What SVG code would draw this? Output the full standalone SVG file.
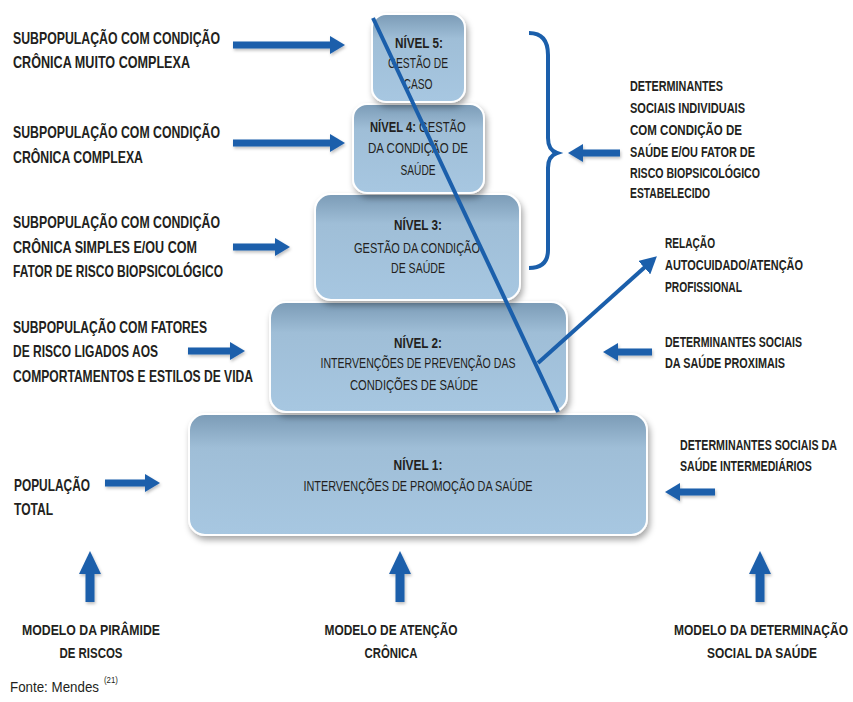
<svg xmlns="http://www.w3.org/2000/svg" width="853" height="702" viewBox="0 0 853 702">
<defs>
<style>
text{font-family:"Liberation Sans",Arial,sans-serif;fill:#231f20;}
.o{font-size:16.5px;font-weight:bold;}
.r{font-size:14.5px;font-weight:bold;}
.b{font-size:14.5px;}
.bb{font-size:14.5px;font-weight:bold;}
.m{font-size:15.5px;font-weight:bold;}
.box{fill:url(#g);stroke:#ffffff;stroke-width:2;filter:url(#sh);}
.arr{stroke:#1b5fab;stroke-width:7;fill:none;marker-end:url(#ah);}
.arrb{stroke:#1b5fab;stroke-width:9;fill:none;marker-end:url(#ahb);}
.ln{stroke:#1b5fab;stroke-width:4;fill:none;}
</style>
<linearGradient id="g" x1="0" y1="0" x2="0" y2="1">
<stop offset="0" stop-color="#7b9bb6"/>
<stop offset="0.28" stop-color="#9fbed7"/>
<stop offset="1" stop-color="#a7c7e1"/>
</linearGradient>
<filter id="sh" x="-10%" y="-10%" width="125%" height="135%">
<feDropShadow dx="2" dy="4" stdDeviation="3" flood-color="#000" flood-opacity="0.35"/>
</filter>
<filter id="ash" filterUnits="userSpaceOnUse" x="0" y="0" width="853" height="702">
<feDropShadow dx="1" dy="2" stdDeviation="1.5" flood-color="#000" flood-opacity="0.25"/>
</filter>
<marker id="ah" markerUnits="userSpaceOnUse" markerWidth="16" markerHeight="20" refX="1" refY="10" orient="auto">
<path d="M0,1 L15,10 L0,19 z" fill="#1b5fab"/>
</marker>
<marker id="ahb" markerUnits="userSpaceOnUse" markerWidth="24" markerHeight="24" refX="1" refY="12" orient="auto">
<path d="M0,1 L23,12 L0,23 z" fill="#1b5fab"/>
</marker>
<marker id="ahs" markerUnits="userSpaceOnUse" markerWidth="18" markerHeight="18" refX="1" refY="9" orient="auto">
<path d="M0,0 L17,9 L0,18 z" fill="#1b5fab"/>
</marker>
</defs>
<rect width="853" height="702" fill="#ffffff"/>

<g id="nivel1">
<rect class="box" x="189" y="414" width="458" height="121" rx="16"/>
<text class="bb" x="418" y="470" text-anchor="middle" textLength="49" lengthAdjust="spacingAndGlyphs">NÍVEL 1:</text>
<text class="b" x="418" y="491" text-anchor="middle" textLength="229" lengthAdjust="spacingAndGlyphs">INTERVENÇÕES DE PROMOÇÃO DA SAÚDE</text>
</g>
<g id="nivel2">
<rect class="box" x="270" y="302" width="297" height="110" rx="16"/>
<text class="bb" x="418" y="348" text-anchor="middle" textLength="48" lengthAdjust="spacingAndGlyphs">NÍVEL 2:</text>
<text class="b" x="418" y="368" text-anchor="middle" textLength="195" lengthAdjust="spacingAndGlyphs">INTERVENÇÕES DE PREVENÇÃO DAS</text>
<text class="b" x="414" y="390" text-anchor="middle" textLength="128" lengthAdjust="spacingAndGlyphs">CONDIÇÕES DE SAÚDE</text>
</g>
<g id="nivel3">
<rect class="box" x="315" y="194" width="205" height="106" rx="16"/>
<text class="bb" x="418" y="230" text-anchor="middle" textLength="48" lengthAdjust="spacingAndGlyphs">NÍVEL 3:</text>
<text class="b" x="417" y="253" text-anchor="middle" textLength="126" lengthAdjust="spacingAndGlyphs">GESTÃO DA CONDIÇÃO</text>
<text class="b" x="418" y="273" text-anchor="middle" textLength="54" lengthAdjust="spacingAndGlyphs">DE SAÚDE</text>
</g>
<g id="nivel4">
<rect class="box" x="353" y="104" width="131" height="89" rx="14"/>
<text class="b" transform="translate(370,132) scale(0.774,1)"><tspan font-weight="bold">NÍVEL 4:</tspan> GESTÃO</text>
<text class="b" x="368" y="153" textLength="100" lengthAdjust="spacingAndGlyphs">DA CONDIÇÃO  DE</text>
<text class="b" x="418" y="175" text-anchor="middle" textLength="35" lengthAdjust="spacingAndGlyphs">SAÚDE</text>
</g>
<g id="nivel5">
<rect class="box" x="372" y="14" width="93" height="88" rx="14"/>
<text class="bb" x="419" y="48" text-anchor="middle" textLength="48" lengthAdjust="spacingAndGlyphs">NÍVEL 5:</text>
<text class="b" x="418" y="68" text-anchor="middle" textLength="60" lengthAdjust="spacingAndGlyphs">GESTÃO DE</text>
<text class="b" x="418" y="89" text-anchor="middle" textLength="29" lengthAdjust="spacingAndGlyphs">CASO</text>
</g>

<g id="esquerda">
<text class="o" x="13" y="44" textLength="207" lengthAdjust="spacingAndGlyphs">SUBPOPULAÇÃO COM CONDIÇÃO</text>
<text class="o" x="13" y="68" textLength="177" lengthAdjust="spacingAndGlyphs">CRÔNICA MUITO COMPLEXA</text>
<text class="o" x="13" y="138" textLength="207" lengthAdjust="spacingAndGlyphs">SUBPOPULAÇÃO COM CONDIÇÃO</text>
<text class="o" x="13" y="163" textLength="130" lengthAdjust="spacingAndGlyphs">CRÔNICA COMPLEXA</text>
<text class="o" x="13" y="228" textLength="207" lengthAdjust="spacingAndGlyphs">SUBPOPULAÇÃO COM CONDIÇÃO</text>
<text class="o" x="13" y="253" textLength="184" lengthAdjust="spacingAndGlyphs">CRÔNICA  SIMPLES E/OU COM</text>
<text class="o" x="13" y="277" textLength="210" lengthAdjust="spacingAndGlyphs">FATOR DE RISCO BIOPSICOLÓGICO</text>
<text class="o" x="13" y="333" textLength="194" lengthAdjust="spacingAndGlyphs">SUBPOPULAÇÃO COM FATORES</text>
<text class="o" x="13" y="357" textLength="145" lengthAdjust="spacingAndGlyphs">DE RISCO LIGADOS AOS</text>
<text class="o" x="13" y="382" textLength="240" lengthAdjust="spacingAndGlyphs">COMPORTAMENTOS E ESTILOS DE VIDA</text>
<text class="o" x="14" y="491" textLength="76" lengthAdjust="spacingAndGlyphs">POPULAÇÃO</text>
<text class="o" x="14" y="515" textLength="39" lengthAdjust="spacingAndGlyphs">TOTAL</text>
</g>

<g id="direita">
<text class="r" x="630" y="91" textLength="93" lengthAdjust="spacingAndGlyphs">DETERMINANTES</text>
<text class="r" x="630" y="113" textLength="115" lengthAdjust="spacingAndGlyphs">SOCIAIS INDIVIDUAIS</text>
<text class="r" x="630" y="135" textLength="112" lengthAdjust="spacingAndGlyphs">COM CONDIÇÃO  DE</text>
<text class="r" x="630" y="157" textLength="125" lengthAdjust="spacingAndGlyphs">SAÚDE E/OU FATOR DE</text>
<text class="r" x="630" y="178" textLength="130" lengthAdjust="spacingAndGlyphs">RISCO BIOPSICOLÓGICO</text>
<text class="r" x="630" y="198" textLength="80" lengthAdjust="spacingAndGlyphs">ESTABELECIDO</text>
<text class="r" x="665" y="248" textLength="50" lengthAdjust="spacingAndGlyphs">RELAÇÃO</text>
<text class="r" x="665" y="270" textLength="138" lengthAdjust="spacingAndGlyphs">AUTOCUIDADO/ATENÇÃO</text>
<text class="r" x="665" y="292" textLength="77" lengthAdjust="spacingAndGlyphs">PROFISSIONAL</text>
<text class="r" x="665" y="347" textLength="137" lengthAdjust="spacingAndGlyphs">DETERMINANTES SOCIAIS</text>
<text class="r" x="665" y="368" textLength="120" lengthAdjust="spacingAndGlyphs">DA SAÚDE PROXIMAIS</text>
<text class="r" transform="translate(680,450) scale(0.735,1)">DETERMINANTES SOCIAIS DA</text>
<text class="r" transform="translate(680,471) scale(0.731,1)">SAÚDE INTERMEDIÁRIOS</text>
</g>

<g id="modelos">
<text class="m" x="91" y="635" text-anchor="middle" textLength="138" lengthAdjust="spacingAndGlyphs">MODELO DA PIRÂMIDE</text>
<text class="m" x="91" y="658" text-anchor="middle" textLength="63" lengthAdjust="spacingAndGlyphs">DE RISCOS</text>
<text class="m" x="391" y="635" text-anchor="middle" textLength="133" lengthAdjust="spacingAndGlyphs">MODELO DE ATENÇÃO</text>
<text class="m" x="391" y="658" text-anchor="middle" textLength="53" lengthAdjust="spacingAndGlyphs">CRÔNICA</text>
<text class="m" transform="translate(761,635) scale(0.774,1)" text-anchor="middle">MODELO DA DETERMINAÇÃO</text>
<text class="m" x="762" y="658" text-anchor="middle" textLength="110" lengthAdjust="spacingAndGlyphs">SOCIAL DA SAÚDE</text>
</g>

<g id="fonte">
<text x="10" y="692" font-size="14" textLength="89" lengthAdjust="spacingAndGlyphs">Fonte: Mendes</text>
<text x="104" y="683" font-size="9" textLength="14" lengthAdjust="spacingAndGlyphs">(21)</text>
</g>

<g id="conectores">
<line class="ln" x1="373" y1="18" x2="558" y2="412"/>
<line class="ln" x1="538" y1="363" x2="645" y2="267" marker-end="url(#ahs)"/>
<path class="ln" stroke-width="5" d="M529,33 Q548,33 548,55 L548,138 Q548,150 557,153 Q548,156 548,168 L548,250 Q548,268 529,268"/>
<g filter="url(#ash)">
<line class="arr" x1="233" y1="45" x2="331" y2="45"/>
<line class="arr" x1="233" y1="143" x2="331" y2="143"/>
<line class="arr" x1="233" y1="247" x2="276" y2="247"/>
<line class="arr" x1="188" y1="351" x2="231" y2="351"/>
<line class="arr" x1="105" y1="483" x2="146" y2="483"/>
<line class="arr" x1="620" y1="153" x2="582" y2="153"/>
<line class="arr" x1="652" y1="352" x2="617" y2="352"/>
<line class="arr" x1="715" y1="492" x2="679" y2="492"/>
<line class="arrb" x1="90" y1="602" x2="90" y2="573"/>
<line class="arrb" x1="400" y1="602" x2="400" y2="573"/>
<line class="arrb" x1="760" y1="602" x2="760" y2="573"/>
</g>
</g>
</svg>
